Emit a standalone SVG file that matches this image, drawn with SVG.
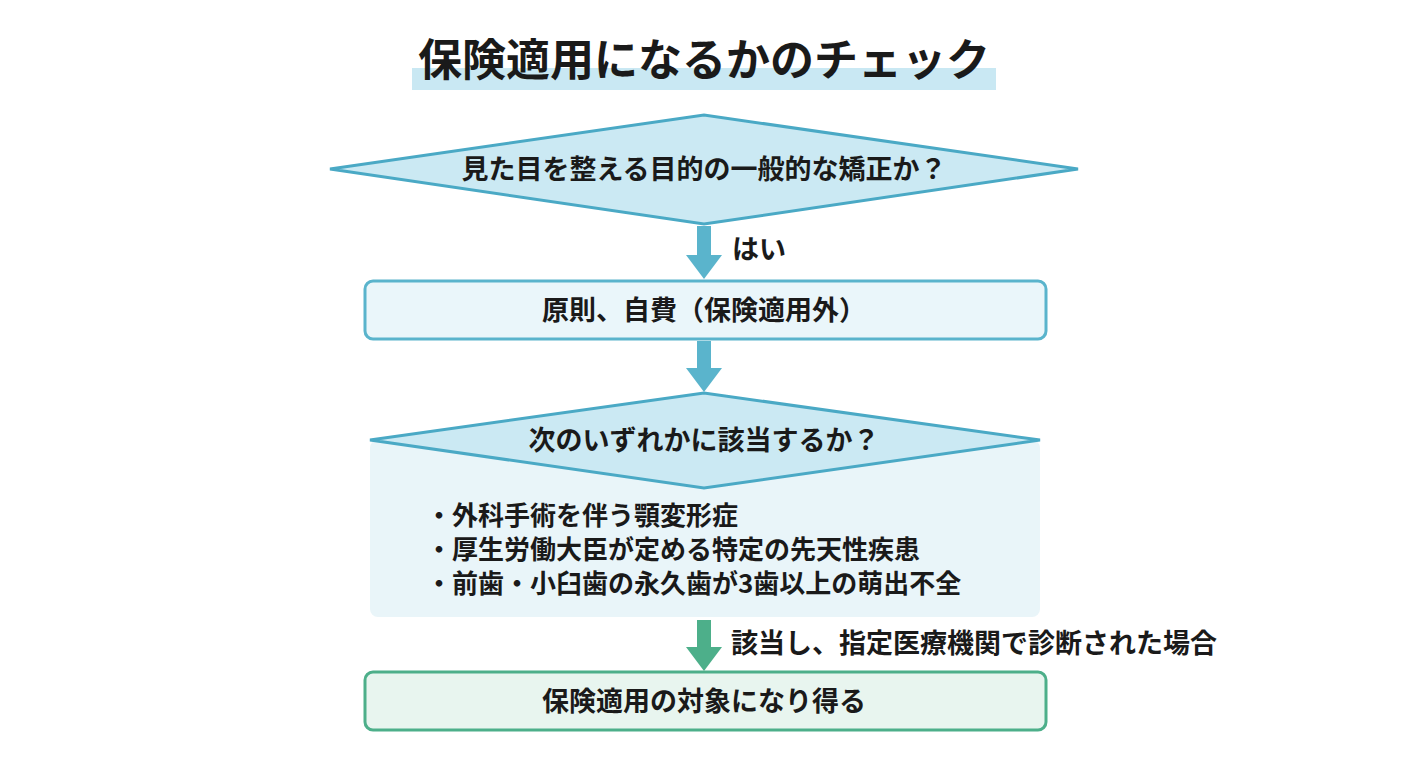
<svg xmlns="http://www.w3.org/2000/svg" width="1408" height="768" viewBox="0 0 1408 768">
<style>
text{font-family:"Noto Sans CJK JP","Noto Sans",sans-serif;font-weight:bold;fill:#1a1a1a}
.t{font-size:27px;text-anchor:middle}
.l{font-size:27px}
.b{font-size:26px}
.blue{fill:#5ab4cc}
.green{fill:#4daf8a}
</style>
<rect width="1408" height="768" fill="#ffffff"/>
<g id="title">
<rect x="412" y="68" width="584" height="22" fill="#c9e8f3"/>
<text x="704" y="76" font-size="44" text-anchor="middle">保険適用になるかのチェック</text>
</g>
<g id="q1">
<polygon points="330,169 704,115 1078,169 704,224" fill="#cbe9f3" stroke="#4aa9c5" stroke-width="3"/>
<text class="t" x="704" y="179">見た目を整える目的の一般的な矯正か？</text>
</g>
<g id="box1">
<rect x="365" y="281" width="681" height="58" rx="8" fill="#eaf6fa" stroke="#5ab4cc" stroke-width="3"/>
<text class="t" x="704" y="320">原則、自費（保険適用外）</text>
</g>
<g id="q2">
<rect x="370" y="440" width="670" height="177" rx="8" fill="#e9f5f9"/>
<polygon points="370,440 704,393 1040,440 704,488" fill="#cbe9f3" stroke="#4aa9c5" stroke-width="3"/>
<text class="t" x="704" y="450">次のいずれかに該当するか？</text>
<text class="b" x="426" y="525">・外科手術を伴う顎変形症</text>
<text class="b" x="426" y="559">・厚生労働大臣が定める特定の先天性疾患</text>
<text class="b" x="426" y="593">・前歯・小臼歯の永久歯が3歯以上の萌出不全</text>
</g>
<g id="box2">
<rect x="365" y="672" width="681" height="58" rx="8" fill="#e8f5ef" stroke="#4daf8a" stroke-width="3"/>
<text class="t" x="704" y="711" font-size="28">保険適用の対象になり得る</text>
</g>
<g id="connectors">
<rect class="blue" x="697" y="226" width="14" height="30"/>
<polygon class="blue" points="686,255 722,255 704,279"/>
<text class="l" x="732" y="259">はい</text>
<rect class="blue" x="697" y="341" width="14" height="28"/>
<polygon class="blue" points="686,368 722,368 704,392"/>
<rect class="green" x="697" y="620" width="14" height="28"/>
<polygon class="green" points="686,647 722,647 704,671"/>
<text class="l" x="731" y="653">該当し、指定医療機関で診断された場合</text>
</g>
</svg>
